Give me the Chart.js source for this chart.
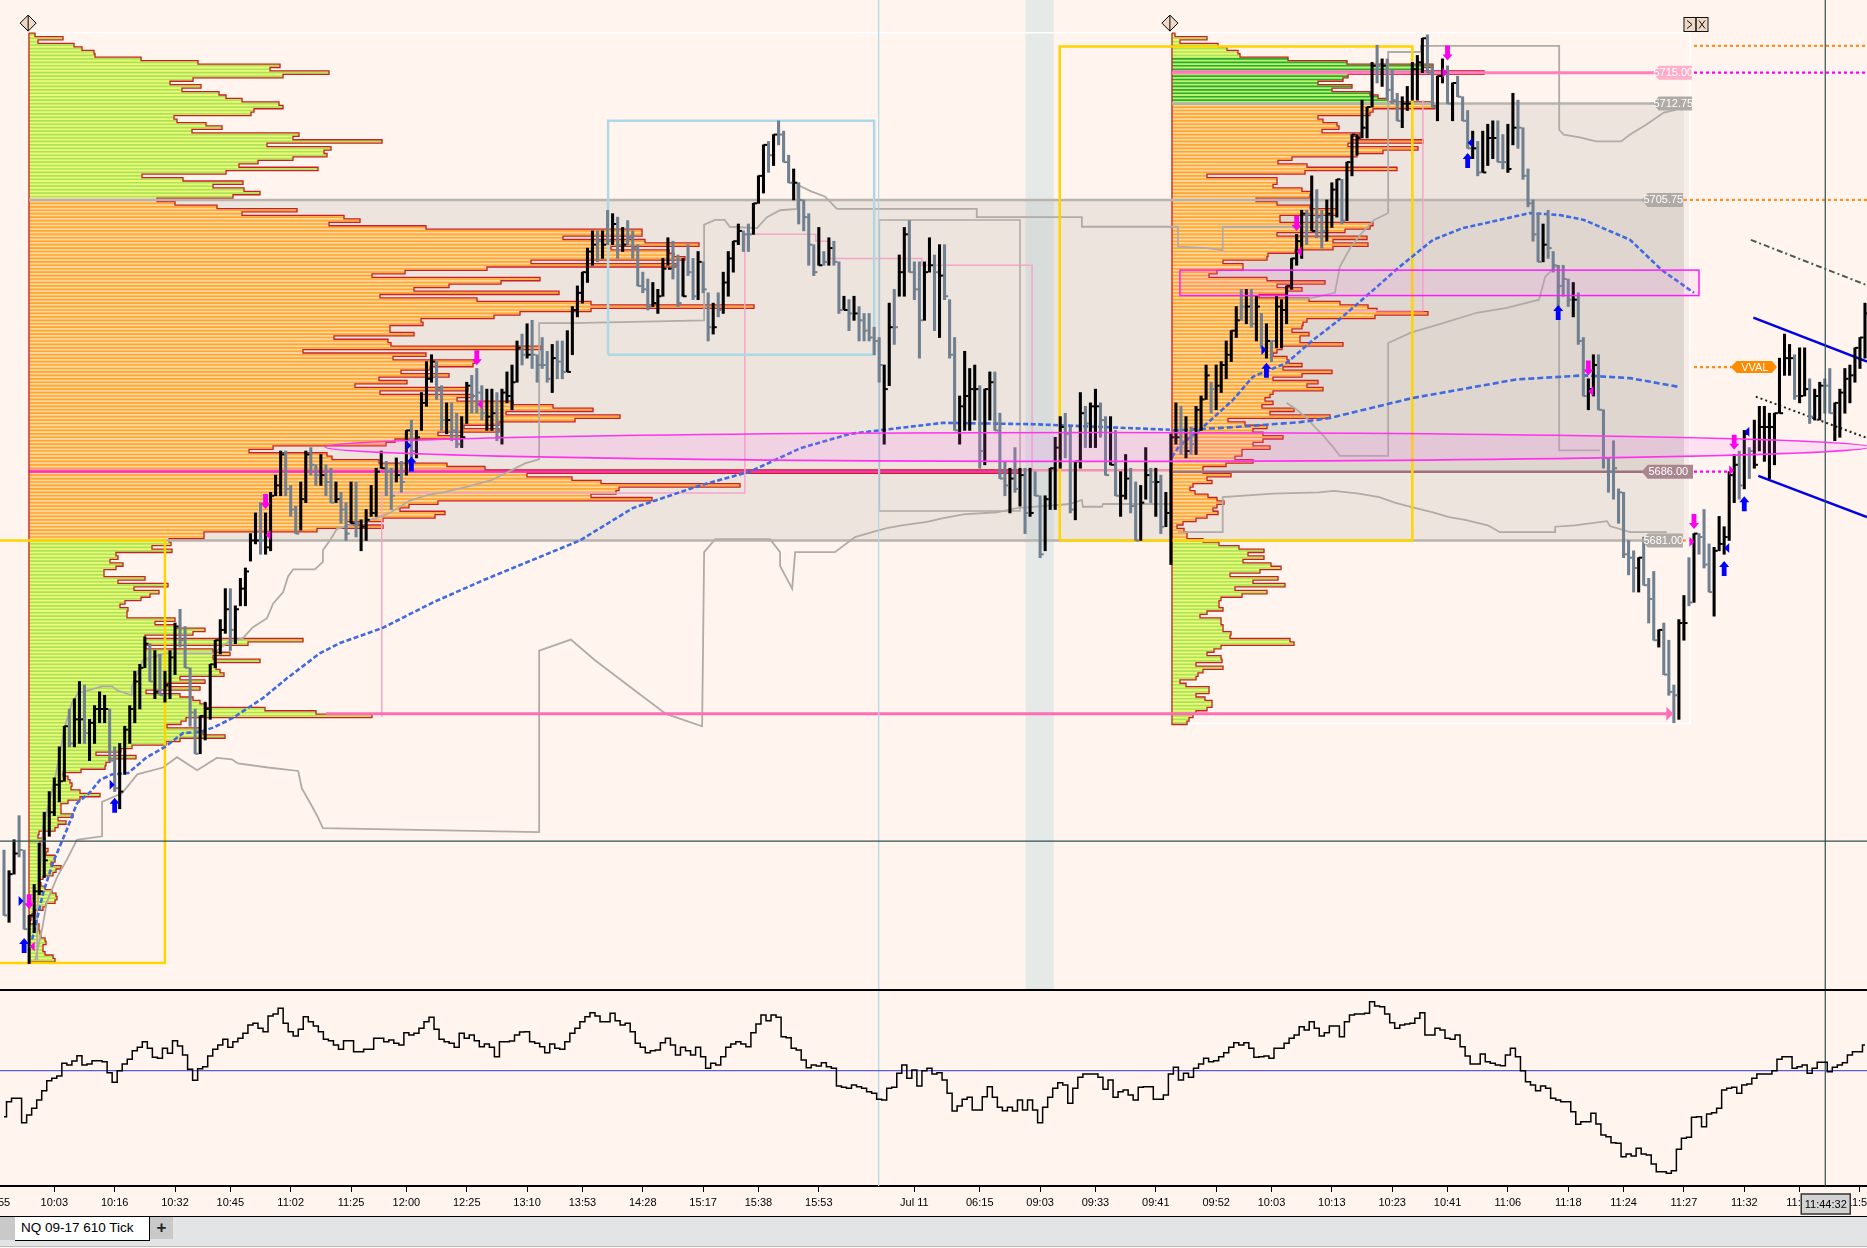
<!DOCTYPE html>
<html>
<head>
<meta charset="utf-8">
<title>NQ 09-17 610 Tick</title>
<script src="https://cdn.jsdelivr.net/npm/chart.js@4"></script>
<style>
  html, body { margin: 0; padding: 0; background: #fff5ee; overflow: hidden; font-family: "Liberation Sans", sans-serif; }
  canvas { position: absolute; left: 0; }
  #main { top: 0; }
  #osc { top: 990px; }
  #sep { position: absolute; left: 0; top: 989px; width: 1867px; height: 2px; background: #000; }
  #tabs { position: absolute; left: 0; top: 1216px; width: 1867px; height: 31px; background: #e3e4e6; border-top: 1.5px solid #000; border-bottom: 1px solid #bbb; box-sizing: border-box; }
  #tabs .gap { position: absolute; left: 0; top: 0; width: 15px; height: 23px; background: #c9c9c9; }
  #tabs .tab { position: absolute; left: 15px; top: 0; width: 135px; height: 24px; background: #fff; border-right: 1.5px solid #000; border-bottom: 1.5px solid #000; box-sizing: border-box; font-size: 13.5px; line-height: 21px; padding-left: 6px; color: #000; }
  #tabs .add { position: absolute; left: 150px; top: 0; width: 23px; height: 22px; background: #c9c9c9; text-align: center; font-size: 17px; font-weight: bold; line-height: 21px; color: #222; }
</style>
</head>
<body>
<canvas id="main" width="1867" height="990"></canvas>
<canvas id="osc" width="1867" height="226"></canvas>
<div id="sep"></div>
<div id="tabs"><div class="gap"></div><div class="tab">NQ 09-17 610 Tick</div><div class="add">+</div></div>
<script>
// prices are points above 5600, x is the bar number
const highs = [58.5,57,59.25,61,58.5,53.75,56,59,61.25,62.75,
63.75,66,67.5,68.75,69.5,70.75,70.5,68,69,70,
69.75,68.75,66,66.25,67.5,69,71.5,72,74,73.5,
73,72.75,71.5,73,75,76,74.75,71.75,68.75,68.25,
69.25,72,73.75,75.25,77.5,77.5,76.25,78.25,79,81.5,
83,83.75,83,84.5,85.75,87.5,87.5,85,83.5,85.25,
87.5,87.75,86.5,87.25,86.5,86.25,85.25,84.5,83.75,85.25,
85.25,82.5,83.25,85,86.25,87.5,86.75,86.25,87,86.75,
89,89.75,89,91.75,94,94.5,94,92.25,91,91,
90.25,90,92.5,93,93.5,92.25,92,92,91.75,92,
93.25,93.75,95.5,96,96.75,97,94.5,95.75,94.75,95.25,
95.5,95.5,96.25,98,99.5,100.5,102.25,103.5,103.5,103.5,
105,104.75,104.5,103.75,104.25,103.5,102.5,100.5,100,99.75,
99.25,101.5,103,102.75,101.75,101.5,102.5,101.5,102,101.25,
99,98.25,99,100.5,102,102.75,104,103.5,104,105.5,
107.5,109.75,110,110.5,111.5,110.75,109,108,107,105.75,
104.75,102.5,103.75,102,103,102.75,101.25,98.75,98.5,98.75,
98,97.5,97.5,96.5,95.75,93.75,98.25,99.25,101.75,103.75,
104.25,101.25,101.25,101.25,103,101.75,102.5,102.5,98.5,95.75,
91.5,94.75,93.5,93.75,92.25,92,93.25,93.25,90.25,86.75,
86.25,87.75,86.25,86.25,86.25,86,84.25,84.25,86.25,88.5,
90,90.25,89.25,86.75,91.75,90.75,91,92,91,90,
90,89,86,87.25,86.25,85.25,85,87.75,86.25,86.25,
85.75,84.5,88.75,91,90.75,90,89.25,90.75,91.5,93.75,
92.5,93.75,94,95.5,96.25,98,99.25,99.25,99.25,98.75,
97.5,96.75,95.5,98.75,98.5,99.5,101.5,103.25,105,105,
107.5,106.5,105,105.75,107,107.25,107.25,108.5,110.5,110.5,
113,112.5,115.75,117,116,116,115.25,113.5,113.25,114,
115.75,116.25,117.5,117.75,115.5,114.75,116,115.5,114.25,114.75,
113.25,112.25,110.75,110,110.75,111.25,111.5,111.5,110.5,111.25,
113.5,113,111,108,105.75,104.75,104,105,102,101,
101,100,99.75,99,95.75,92.75,94.5,94.5,90.5,87,
88.25,84.75,84.5,81,80.25,79.75,81.25,78.25,78.75,74.5,
75,73.75,70.5,75.25,77,79.75,81.5,81.5,83.25,80.75,
80.5,82.75,82,86,87.25,87.5,89,87.75,89.75,90.75,
90.75,90.25,90.25,94.25,96,95.25,94.5,95,95,92.75,
92,92.5,92.75,93.5,91,92,93.5,93.75,95,95.75,98.25];

const lows = [53.75,53.25,56.75,58,52.75,50.25,52.5,55.25,56.5,59.5,
61,62,63.5,66,66,66.25,66.25,65,66.25,67.75,
67.75,65,62.75,61.5,64,66.25,67.75,68.75,71.75,70.75,
69.5,69.75,69.25,69.5,71.25,73.25,71.75,67.5,65.5,65.5,
66.5,68,71.75,72.75,74.25,73,73.5,76.25,76.25,79.5,
80.75,80,80,80.25,84.25,84.25,84.25,82.75,81.5,81.75,
83.75,85.75,85,85,84.25,83.75,83.75,82.25,81,82.25,
81.25,80.25,81,82.75,82.75,86.25,84.25,83.25,85.25,84.5,
85.75,87,87,89,90.75,92.5,91.25,89,88.75,88.25,
87.75,87.75,89.5,90.25,90.25,89.75,89,89,88.25,88,
91,90.5,92.5,93.75,94.25,93.5,92.5,93.5,92.5,91.75,
92.75,92.75,93.25,94.5,97.25,98.25,99.75,101,101.25,101.5,
102.5,102.5,101.5,102,102.5,101.5,99.5,99,97.75,98,
97.5,98.75,101,100,98,98.75,100.25,98.5,98.5,99,
95.5,96,97.25,97.5,98.75,100.5,102.5,102,102,103.25,
105.5,106.25,107.75,108.25,109.75,108.5,107,105.75,104,103.5,
101,100.25,101,101,101,101,97.5,97.75,96.25,97,
95.5,95.5,95.5,94.5,92.5,88,92.25,95.25,98.75,98.75,
100.5,98.5,94.25,97,100.5,96.25,95.75,98.5,94.25,89,
88,89,89,89.75,86.25,86.5,89.75,89,85.5,84.25,
83,84.5,83.5,81.5,82.75,84.25,79.75,80.25,83.25,83.25,
86.25,87,83,82.5,86.25,87.75,87.75,87.75,88.5,85.75,
86.5,84.25,82.75,84,83,81,81,84,83.75,82.75,
81.5,82,79.25,88,87.25,87,87.25,87.25,89,91.25,
90.25,90.5,91.75,92.75,94,95.75,97,96.75,96.5,95.5,
95,94.25,94,95,95,96.75,99.25,101,101.5,102.5,
103.5,103,102.25,102.75,103.75,104.5,104,104.25,107.5,109,
110.25,110.25,112.5,114.25,114,113,112.75,111.5,111,112.25,
113,113,115,115,112.5,111.5,114.25,112.75,111.5,113.25,
111.5,109.5,108.75,107.5,107.75,108.25,108.75,108.5,108,107.75,
109.75,109.5,107.25,105.25,102.75,101.25,101.25,101.5,100.5,98,
98.75,98,97.25,95.25,91.5,90.5,91.5,90.5,86.25,84.5,
84,82.25,79.75,78.5,77.25,77.25,77.75,75,73.75,73.25,
71.25,69.75,67.75,68,73.75,76.25,76.5,80,79,77.25,
75.5,80.25,80,81,83.75,84,84.75,85.5,86.25,87.5,
86.75,85.5,86.5,90.25,93,93,91.25,91,91.5,89.5,
89.75,89.75,90.25,90.25,88.25,88.5,90.25,91,92.5,93.5,94.25];

const closes = [53.75,56.75,58.25,58.5,52.75,53.75,55.5,55.5,57.75,61.25,
63.25,63.5,67.5,66.25,68,68,67,67.75,68.75,68.75,
68.75,65,63,62.75,67.25,68.75,70.75,71.75,73.5,70.75,
70,69.75,70.5,72.5,74.75,73.75,71.75,68.5,65.5,68.25,
68.75,72,73.75,74.5,76,74.5,76,77.5,78.75,81,
81,81,80.5,84.25,85,87.25,84.75,83.25,81.5,84,
87.25,86.5,85.75,85.75,85.25,83.75,84,83.25,81.5,82.25,
82.25,82,82.5,83,86,86.25,86,84.25,85.75,85.25,
89,87.5,88.5,91,92.75,94,92,89.75,89.75,89,
88,88.5,92.25,91.5,91.75,90.25,90,90.25,88.5,91.75,
91.5,92.5,95,94.5,94.5,94.5,93.75,93.75,92.75,94.25,
94,93.25,93.25,97.75,99,100.5,102,102.5,102.75,102.5,
102.75,104,102.5,102.5,103,102.25,99.5,99.25,98,98.25,
98.75,100.75,100.75,101,98.25,98.75,100.5,98.75,101.25,99.25,
96.5,96.5,97.75,99.75,101.5,102.75,103.5,103.25,103.25,105.5,
107.5,109.75,109,110.5,110.5,108.5,107,107,105.75,104.5,
102.5,100.5,101,101.25,102.25,101.25,97.75,97.75,97.5,97.5,
97,96.25,95.75,95.5,93.75,92,96.5,96.5,100.5,103.25,
100.5,99.25,97,100.5,101,100.5,100.25,98.75,94.5,89,
90.75,91.5,92,92,87.5,92,92.5,89,85.5,85,
85.5,84.75,85.75,83,83,84.25,80,84,86.25,87.75,
89.25,88.75,83.25,86.75,90.25,89.5,90.75,90.75,89.75,85.75,
86.5,84.25,84.25,85.5,83.5,81,83.75,85.75,85.25,85.25,
82,83,88.5,88.5,88,87.5,88,90.5,91.25,93,
92,92.25,93.75,94.5,96.25,97,98,98,96.75,98,
95,95.5,95.5,98,97.75,99.5,101.5,102.75,104.75,104.75,
103.5,104.5,103.5,104.75,106.5,107.25,104.25,108.5,110.5,110.25,
111,112.5,115.5,115.5,115.5,113.75,113,111.5,112.75,112.75,
115.25,115.75,117.5,115,112.5,114.75,115,112.75,114.25,113.25,
111.5,109.5,109.5,107.75,107.75,110.25,110.25,108.5,108.5,108,
111,111,107.5,105.5,103.25,101.25,102.5,102.25,101,99.5,
100,98.5,98.5,95.5,91.5,92,93.75,90.5,87,86,
86.25,84.5,80,79.75,79,79.75,77.75,76.75,73.75,74.5,
71.25,70,69.75,75,75,76.5,81.5,81.25,79.25,77.25,
80.25,80.75,81.25,85.75,86.5,85,88.75,87.5,86.5,89.25,
89.25,89.25,90.25,90.25,94.25,94.25,91.5,91.5,92,90,
91.5,92.25,92.25,90.25,91,91.75,92.75,93,95,95.75,97.5];

const greyBars = [0,3,4,13,16,21,22,29,31,35,36,37,38,45,51,56,57,58,61,62,64,65,67,68,70,76,77,79,81,86,87,89,90,93,94,95,98,103,105,106,107,108,110,111,118,120,122,124,125,126,127,128,133,134,136,137,139,140,142,147,148,152,154,155,156,158,159,160,161,163,165,166,168,170,171,172,173,174,177,180,181,182,185,187,188,189,194,197,198,199,201,203,205,206,211,212,215,218,219,221,224,225,228,230,234,236,240,246,248,250,252,259,261,262,266,273,275,276,277,283,284,287,289,290,291,293,297,298,301,302,303,304,305,307,308,309,310,311,313,314,317,318,319,320,321,322,323,324,326,327,328,330,331,332,335,337,338,339,345,347,356,359,362,363];

const oscillator = [-138,-93,-83,-83,-156,-133,-113,-88,-60,-30,-23,-16,22,17,29,45,17,20,30,30,27,-6,-35,0,20,34,60,70,87,67,40,37,67,52,90,74,47,4,-29,6,12,44,64,77,94,70,87,97,112,137,142,127,117,164,170,187,142,117,104,124,162,147,134,117,94,90,77,64,90,90,57,57,64,64,97,97,87,92,82,77,114,107,112,127,147,160,124,94,87,82,70,112,97,107,90,72,80,70,42,87,87,89,107,116,117,87,82,72,54,80,67,64,87,112,127,147,162,174,164,147,147,172,150,137,142,117,82,70,54,60,62,84,97,77,47,70,60,47,70,42,7,22,17,42,70,80,87,80,72,114,140,167,150,167,160,102,99,67,62,32,9,17,14,24,12,7,-46,-50,-53,-43,-48,-53,-63,-68,-86,-88,-53,-50,-8,17,-23,2,-46,0,7,
-10,-6,-28,-68,-121,-106,-86,-80,-118,-118,-78,-48,-80,-110,-120,-110,-121,-88,-118,-88,-118,-156,-110,-80,-53,-36,-43,-98,-53,-20,-10,-10,-10,-20,-56,-28,-80,-63,-58,-73,-88,-50,-48,-48,-86,-86,-73,-10,10,-28,-8,-20,7,20,37,27,30,42,54,70,84,77,84,67,40,42,44,37,67,67,82,97,107,132,122,147,127,104,114,134,134,102,147,167,170,170,172,207,194,192,170,144,127,137,140,142,157,174,107,107,127,122,97,94,107,72,44,20,20,50,27,22,17,15,47,67,42,0,-33,-43,-60,-46,-53,-83,-88,-93,-93,-123,-161,-153,-153,-128,-160,-193,-198,-216,-218,-258,-250,-256,-233,-250,-253,-280,-303,-303,-308,-300,-236,-203,-200,-140,-138,-168,-130,-126,-113,-58,-53,-50,-68,-43,-40,-23,-10,-10,-10,0,34,42,42,7,12,17,-8,7,25,25,-3,10,17,24,47,57,57,77];

const tickBars = [-1.5,10,22,34,45,57,69,80,92,104,115,127,139,150,162,181,194,206,217,229,241,252,264,276,287,299,311,322,334,346,357,369];
const tickLabels = ["09:55","10:03","10:16","10:32","10:45","11:02","11:25","12:00","12:25","13:10","13:53","14:28","15:17","15:38","15:53","Jul 11","06:15","09:03","09:33","09:41","09:52","10:03","10:13","10:23","10:41","11:06","11:18","11:24","11:27","11:32","11:38","11:50"];

// volume at price, one value per 0.25 row from the top of the ladder
const topRow = 117.75;
const leftProfile = [6,34,9,45,53,65,66,112,169,251,241,300,254,164,141,172,153,190,197,213,250,254,225,222,145,148,177,193,163,270,264,353,238,302,295,298,264,229,210,289,197,113,154,214,184,215,231,204,
128,146,188,268,213,315,331,300,397,613,613,534,616,670,582,640,645,656,502,647,458,376,343,511,472,420,385,530,351,448,562,725,562,491,465,392,394,361,361,385,305,359,362,512,274,397,364,446,444,401,372,420,350,378,326,439,351,444,428,484,524,564,477,591,546,470,435,470,409,432,366,357,244,220,298,303,350,418,456,991,498,543,572,711,590,587,562,623,409,380,371,416,406,354,317,354,288,175,175,140,
142,123,143,87,89,81,94,87,75,75,116,89,139,105,130,121,112,96,91,99,98,98,146,126,146,176,164,116,274,219,117,184,201,184,231,187,187,191,195,151,176,137,171,117,151,164,171,177,236,287,343,157,152,138,171,174,196,151,137,103,92,67,107,81,77,76,52,34,39,41,43,42,51,71,51,39,32,32,32,44,29,37,29,26,10,9,16,11,16,19,17,26,26,22,32,27,24,14,10,12,16,23,27,28,26,17,14,6,3,2,1,10,10,11,12,16,17,14,14,16,24,26];
const rightProfile = [3,35,8,46,55,66,68,116,175,261,251,312,176,171,146,180,160,198,206,216,261,263,201,198,146,151,165,167,150,188,180,251,176,246,211,185,120,106,135,225,133,35,105,105,101,130,139,138,84,105,138,165,165,108,108,201,198,173,105,195,161,196,161,123,96,95,51,71,71,45,37,95,153,105,130,115,87,137,168,196,205,256,203,135,131,130,120,137,128,128,171,110,105,101,115,117,130,111,160,130,101,146,135,151,101,98,93,101,90,122,98,158,56,73,95,81,91,111,91,81,98,70,70,63,81,54,31,31,59,35,40,21,18,23,36,45,52,45,41,46,
35,24,11,5,12,15,15,31,47,67,92,76,92,71,99,109,88,58,106,81,113,63,95,70,49,47,47,51,35,28,49,49,51,51,59,58,118,122,49,42,35,49,50,24,51,31,26,24,8,14,37,37,24,33,40,40,35,24,21,17,15];
const leftPocRow = 127, rightPocRow = 11;

// session levels, drawn from bar number and price
const leftArea = [5, 334, 105.75, 81];
const rightArea = [232.2, 334, 112.75, 86];
const lowerBand = [203.1, 208.7];
const ellipseCentre = [217.3, 87.8], ellipseReach = [153.5, 1.05];
const zoneBox = [233.8, 337, 100.65, 98.8];
const crossBar = 362.1, crossPrice = 59.15, sessionBar = 173.9;

const trailA = [[6.2,50.5],[7.6,52.8],[8.5,54.7],[10.5,56.5],[12.5,57.8],[14.5,59.25],[19.5,59.5],[19.5,62],[23.5,62.65],[26.5,64],[31.6,64.5],[34.4,65.25],[38.4,64.3],[42.3,65.2],[45.3,65.1],[46.5,64.8],[52.5,64.5],[58.5,64.25],[59.2,63],[61.2,61.7],[62.4,60.9],[63.4,60.1],[106.4,59.8],[106.4,73],[112.7,73.8],[117.5,72.3],[124.7,70.3],[131.6,68.4],[138.8,67.5],[139.2,80.15],[141.4,81.1],[152.3,81.1],[154.3,80.15],[154.3,79.15],[156.7,77.5],[157.3,80.15],[165.2,80.15],[169.2,81.25],[172.6,81.6],[175.5,81.9],[178.5,82.1],[183.5,82.35],[186.5,82.6],[190.7,82.9],[197.4,83.05],[201.4,83.35],[211.9,83.65],[214.3,83.95],[214.5,83.45],[218.3,83.45],[218.5,83.65],[231.8,83.65]];
const trailB = [[233.4,81.6],[242.3,81.6],[242.3,84.15],[252.3,84.4],[261.4,84.5],[264.4,84.6],[269.4,84.4],[273.4,84.15],[276.5,83.75],[279.7,83.45],[284.1,83.05],[287.3,82.7],[290.5,82.5],[295,82.1],[297.4,81.6],[308.4,81.6],[308.4,82],[312.3,82.1],[318.7,82.4],[319.3,82.05],[323.3,81.6],[330.6,81.6]];
const trailC = [[6.6,50.5],[6.6,54],[7.8,60.2],[10.2,63.8],[12.1,67.45],[13.5,69.2],[14.7,69.9],[19.5,70.4],[21.5,70.4],[22.5,70.1],[25.4,69.75],[25.4,70.35],[27.6,72.3],[32,72.8],[41.6,72.8],[44.5,73.6],[47.5,73.9],[49.5,74.7],[52.3,75.35],[53.5,76.4],[55.5,77.25],[56.5,78.4],[57.5,78.9],[61.8,78.9],[63.4,79.45],[63.4,80.3],[64.8,81],[66.2,81.85],[74.2,82.65],[76.7,83],[80.7,83.9],[84.1,84.3],[87.3,84.5],[92,84.9],[97,85.4],[103.6,86.6],[106.4,86.9],[106.4,96.8],[112.9,96.8],[139.2,97],[139.2,103.95],[141.4,104.3],[143.3,104.3],[144.3,103.8],[149.7,103.7],[151.7,104.5],[154.3,105],[157.7,105.1],[157.7,106.85],[160.6,106.35],[163.2,106],[165.6,105.1],[193.4,105.1],[193.4,104.5],[214.3,104.5],[214.3,103.8],[232.2,103.8],[233.4,103.8],[233.4,102.35],[239.2,102.25],[242.3,102.1],[242.3,103.8],[261.6,103.8]];
const trailD = [[255,98.6],[259.6,98.6],[264.6,99],[265.6,100.9],[267.8,102.35],[270,103.35],[272.4,104.3],[275.2,104.8],[275.2,116.5],[281.7,116.5],[281.7,116.95],[309.2,116.95],[309.2,110.85],[310.1,110.5],[313.3,110.3],[316.5,110],[321.5,110],[323.3,110.5],[326.4,111.2],[330,112.1],[332.4,112.3]];
const trailE = [[255,91],[256.7,90.6],[259,89.9],[260.6,89.25],[262.2,88.65],[264.2,87.8],[265.6,87.15],[275.2,87.15],[275.2,95.35],[279.7,96.1],[286.1,96.8],[292.8,97.55],[298.8,97.9],[305.2,98.5],[306.4,100.15],[308.4,100.9],[309.2,100.9],[309.2,87.55],[317.3,87.55]];
const greyBox = [[174,83.15],[174,104.3],[202,104.3],[202,83.15],[174,83.15]];

const vwapOne = [[5.6,52],[7.8,55.4],[9.7,57.55],[12.5,60],[14.5,61.9],[17.1,62.7],[19.1,63.6],[21.5,64],[24.7,64.1],[28.4,65.25],[32,66],[35.6,67],[39,67.1],[41.6,67.4],[45.5,68.1],[51.5,69.55],[56.3,71],[62.8,72.8],[66.8,73.55],[75.3,74.65],[85.3,76.5],[95.2,78.1],[114.5,81],[125,83.35],[138.4,85],[148.3,86],[158.3,87.7],[168.2,88.75],[186.7,89.55],[204.6,89.45],[231.8,89.05]];
const vwapTwo = [[232.2,87.05],[233.8,87.95],[237.8,89.05],[244.3,91.2],[248.3,92.9],[255,93.9],[260.2,95.55],[265,96.9],[271.6,99],[277.5,100.9],[284.1,102.85],[290,103.7],[297.4,104.3],[303.4,104.8],[309.3,104.65],[314.1,104.3],[323.3,102.85],[329.6,100.65],[336,99]];
const vwapThree = [[232.4,89],[243.1,89.2],[257.7,89.6],[263.6,89.9],[280,91.35],[300.6,92.7],[314.1,93],[323.3,92.8],[333.2,92.15]];

const pinkPathA = [[75.1,68.2],[75.1,84.45],[147.3,84.45],[147.3,103.25],[161.4,103.25],[161.4,102.75],[164.2,102.75],[164.2,101.5],[182.5,101.5],[182.5,101],[204.4,101],[204.4,86.1]];
const pinkPathB = [[255,97.7],[282.1,97.7],[282.1,113]];
const yellowLeft = [[-1,81],[32,81],[32,50.3],[-1,50.3]];
const yellowRight = [[209.9,81],[209.9,116.9],[280,116.9],[280,81],[209.9,81]];
const blueBox = [[120.1,94.5],[120.1,111.5],[173,111.5],[173,94.5],[120.1,94.5]];
const channelTop = [[347.8,97.2],[370.4,94]], channelLow = [[348.8,85.7],[370.4,82.7]];
const dottedMid = [[348.3,91.45],[370.4,88.45]], dashDotTop = [[347.3,102.85],[370.4,99.55]];

const upArrows = [[4,51.6],[22,61.8],[81,86.6],[251,93.4],[291,108.65],[309,97.6],[342,79],[346,83.7]];
const downArrows = [[5,54.7],[52,83.8],[94,94.25],[257,104],[287,116.4],[315,93.5],[336,82.35],[344,88.1]];
const blueRight = [[3.4,54.8],[21.5,63.25],[80.5,87.9],[250.5,94.85]];
const blueLeft = [[291.5,109.9],[342.5,80.45],[346.5,88.9]];
const pinkLeft = [[5.6,51.5],[52.5,81.4],[94.6,90.9],[257.5,102],[315.5,91.85]];
const pinkRight = [[286.5,115],[335.6,80.9],[343.5,86.1]];

const priceTags = [
  ["5715.00", 327.8, 335.6, 115, "rgba(255,170,200,0.9)"],
  ["5712.75", 327.8, 335.6, 112.75, "#b0aaa6"],
  ["5705.75", 325.6, 333.8, 105.75, "#b0aaa6"],
  ["5686.00", 325.6, 335.8, 86, "#a98590"],
  ["5681.00", 325.6, 333.8, 81, "#b0aaa6"],
  ["VVAL", 343.3, 352.5, 93.6, "#ff8c00"]
];

const BLACK = "#000000", SLATE = "#708090";
const rowPrice = r => topRow - 0.25 * r;

function colourRow(list, r, poc) {
  if (r === poc) return ["#ff55c8", "#ff2fb8"];
  if (list === leftProfile) {
    if (r < 48 || r >= 147) return ["#e8fb76", "#aee158"];
    return ["#ffd79e", "#ffa62e"];
  }
  if (r < 7 || r >= 147) return ["#e8fb76", "#aee158"];
  if (r < 21) return ["#b6f56c", "#2fa82f"];
  return ["#ffd79e", "#ffa62e"];
}

function profileSets(list, axis, poc) {
  const rows = list.map((w, r) => ({ x: w, y: rowPrice(r) }));
  const outline = [{ x: 0, y: rowPrice(0) + 0.125 }];
  list.forEach((w, r) => {
    outline.push({ x: w, y: rowPrice(r) + 0.125 });
    outline.push({ x: w, y: rowPrice(r) - 0.125 });
  });
  outline.push({ x: 0, y: rowPrice(list.length - 1) - 0.125 });
  outline.push({ x: 0, y: rowPrice(0) + 0.125 });
  return [
    { type: "bar", indexAxis: "y", xAxisID: axis, yAxisID: "y", data: rows, grouped: false, barThickness: 3.5, borderWidth: 0,
      backgroundColor: list.map((w, r) => colourRow(list, r, poc)[0]), order: 60 },
    { type: "bar", indexAxis: "y", xAxisID: axis, yAxisID: "y", data: rows, grouped: false, barThickness: 1, borderWidth: 0,
      backgroundColor: list.map((w, r) => colourRow(list, r, poc)[1]), order: 59 },
    { type: "line", xAxisID: axis, yAxisID: "y", data: outline, borderColor: "#c8202a", borderWidth: 1.3, pointRadius: 0, order: 58 }
  ];
}

function path(points, color, width, extra) {
  return Object.assign({
    type: "line", xAxisID: "x", yAxisID: "y",
    data: points.map(p => ({ x: p[0], y: p[1] })),
    borderColor: color, borderWidth: width, pointRadius: 0, order: 40
  }, extra || {});
}

const priceBars = highs.map((h, i) => ({ x: i, y: [lows[i], h] }));
const closeTicks = closes.map((c, i) => ({ x: i, y: c }));
const barShade = highs.map((h, i) => greyBars.includes(i) ? SLATE : BLACK);

const mainSets = [
  ...profileSets(leftProfile, "volL", leftPocRow),
  ...profileSets(rightProfile, "volR", rightPocRow),

  path([[5,105.75],[334,105.75]], "#b9b3ae", 2.5, { order: 50 }),
  path([[5,81],[334,81]], "#b9b3ae", 2.5, { order: 50 }),
  path([[232.2,112.75],[334,112.75]], "#b9b3ae", 2.5, { order: 50 }),
  path([[232.2,86],[326,86]], "#a0707e", 2.5, { order: 50 }),

  path(trailA, "#b0aba6", 1.8),
  path(trailB, "#b0aba6", 1.8),
  path(trailC, "#b0aba6", 1.8),
  path(trailD, "#b0aba6", 1.8),
  path(trailE, "#b0aba6", 1.8),
  path(greyBox, "#bdb8b4", 2),

  path(pinkPathA, "#f4a6c8", 1.5),
  path(pinkPathB, "#f4a6c8", 1.5),
  path([[64,68.4],[331.2,68.4]], "#ff6eb4", 3, { order: 38 }),
  path([[232.2,115],[335,115]], "#ff7fbf", 3, { order: 38 }),
  path([[202,86.1],[232.2,86.1]], "#f58fb4", 2.5, { order: 38 }),

  path(yellowLeft, "#ffd400", 2.5, { order: 30 }),
  path(yellowRight, "#ffd400", 2.5, { order: 30 }),
  path(blueBox, "#add8e6", 2.5, { order: 30 }),

  path([[sessionBar,48.3],[sessionBar,120.3]], "#b5d3e8", 1.2, { order: 32 }),
  path([[-1,crossPrice],[370.5,crossPrice]], "#2f4f4f", 1.2, { order: 5 }),
  path([[crossBar,48.3],[crossBar,120.3]], "#2f4f4f", 1.2, { order: 5 }),

  path(vwapOne, "#4169e1", 2.6, { borderDash: [5, 2.5], order: 20 }),
  path(vwapTwo, "#4169e1", 2.6, { borderDash: [5, 2.5], order: 20 }),
  path(vwapThree, "#4169e1", 2.6, { borderDash: [6, 3], order: 20 }),

  path([[336,116.95],[370.4,116.95]], "#ff8c1a", 2.2, { borderDash: [3, 3], order: 20 }),
  path([[334,105.75],[370.4,105.75]], "#ff8c1a", 2.2, { borderDash: [3, 3], order: 20 }),
  path([[336,93.6],[343.5,93.6]], "#ff8c1a", 2.2, { borderDash: [3, 3], order: 20 }),
  path([[333.8,81],[336,81]], "#ff8c1a", 2.2, { borderDash: [3, 3], order: 20 }),
  path([[336,115],[370.4,115]], "#ff00ff", 2.2, { borderDash: [3, 3], order: 20 }),
  path([[336,86],[343.5,86]], "#ff00ff", 2.2, { borderDash: [3, 3], order: 20 }),

  path(channelTop, "#0000e6", 2.5, { order: 18 }),
  path(channelLow, "#0000e6", 2.5, { order: 18 }),
  path(dottedMid, "#222222", 2, { borderDash: [2, 3], order: 18 }),
  path(dashDotTop, "#4a5a50", 2, { borderDash: [6, 3, 2, 3], order: 18 }),

  { type: "bar", xAxisID: "x", yAxisID: "y", data: priceBars, grouped: false, barThickness: 2.4, borderWidth: 0,
    backgroundColor: barShade, order: 10 },
  { type: "line", xAxisID: "x", yAxisID: "y", data: closeTicks, showLine: false, pointStyle: "dash", pointRadius: 3.6,
    pointBorderWidth: 2, pointBorderColor: barShade, pointBackgroundColor: barShade, order: 9 }
];

function drawArrow(ctx, x, y, dir, color) {
  ctx.fillStyle = color;
  ctx.beginPath();
  ctx.moveTo(x - 2.4, y - 8 * dir);
  ctx.lineTo(x + 2.4, y - 8 * dir);
  ctx.lineTo(x + 2.4, y + 1 * dir);
  ctx.lineTo(x + 5, y + 1 * dir);
  ctx.lineTo(x, y + 7 * dir);
  ctx.lineTo(x - 5, y + 1 * dir);
  ctx.lineTo(x - 2.4, y + 1 * dir);
  ctx.closePath();
  ctx.fill();
}

function drawPointer(ctx, x, y, dir, size, color) {
  ctx.fillStyle = color;
  ctx.beginPath();
  ctx.moveTo(x - size * dir / 2, y - size);
  ctx.lineTo(x + size * dir / 2, y);
  ctx.lineTo(x - size * dir / 2, y + size);
  ctx.closePath();
  ctx.fill();
}

function drawDiamond(ctx, x, y) {
  ctx.beginPath();
  ctx.moveTo(x, y - 8); ctx.lineTo(x + 8, y); ctx.lineTo(x, y + 8); ctx.lineTo(x - 8, y); ctx.closePath();
  ctx.fillStyle = "#f0d9c4"; ctx.fill();
  ctx.strokeStyle = "#000"; ctx.lineWidth = 1; ctx.stroke();
  ctx.beginPath(); ctx.moveTo(x, y - 8); ctx.lineTo(x, y + 8); ctx.stroke();
}

const sessionPaint = {
  id: "sessionPaint",
  beforeDatasetsDraw(chart) {
    const ctx = chart.ctx, X = v => chart.scales.x.getPixelForValue(v), Y = v => chart.scales.y.getPixelForValue(v);
    ctx.save();
    ctx.fillStyle = "rgba(130,125,120,0.14)";
    [leftArea, rightArea].forEach(b => ctx.fillRect(X(b[0]), Y(b[2]), X(b[1]) - X(b[0]), Y(b[3]) - Y(b[2])));
    ctx.fillStyle = "rgba(130,125,120,0.05)";
    ctx.fillRect(X(334), Y(rightArea[2]), X(335.2) - X(334), Y(leftArea[3]) - Y(rightArea[2]));
    ctx.fillStyle = "rgba(170,205,220,0.3)";
    ctx.fillRect(X(lowerBand[0]), 0, X(lowerBand[1]) - X(lowerBand[0]), chart.height);
    ctx.strokeStyle = "#ffffff"; ctx.lineWidth = 1.5;
    ctx.beginPath();
    ctx.moveTo(X(5), Y(117.9)); ctx.lineTo(X(335.2), Y(117.9)); ctx.lineTo(X(335.2), Y(67.7)); ctx.lineTo(X(232.2), Y(67.7));
    ctx.moveTo(X(32), Y(50.2)); ctx.lineTo(X(5), Y(50.2));
    ctx.stroke();
    ctx.restore();
  },
  afterDatasetsDraw(chart) {
    const ctx = chart.ctx, X = v => chart.scales.x.getPixelForValue(v), Y = v => chart.scales.y.getPixelForValue(v);
    ctx.save();
    // value ellipse and zone box
    ctx.beginPath();
    ctx.ellipse(X(ellipseCentre[0]), Y(ellipseCentre[1]), X(ellipseCentre[0] + ellipseReach[0]) - X(ellipseCentre[0]),
      Y(ellipseCentre[1] - ellipseReach[1]) - Y(ellipseCentre[1]), 0, 0, Math.PI * 2);
    ctx.fillStyle = "rgba(255,105,255,0.15)"; ctx.fill();
    ctx.strokeStyle = "#ff33ee"; ctx.lineWidth = 1.6; ctx.stroke();
    ctx.fillStyle = "rgba(255,100,255,0.10)";
    ctx.fillRect(X(zoneBox[0]), Y(zoneBox[2]), X(zoneBox[1]) - X(zoneBox[0]), Y(zoneBox[3]) - Y(zoneBox[2]));
    ctx.strokeStyle = "#ff1aff"; ctx.lineWidth = 1.5;
    ctx.strokeRect(X(zoneBox[0]), Y(zoneBox[2]), X(zoneBox[1]) - X(zoneBox[0]), Y(zoneBox[3]) - Y(zoneBox[2]));

    upArrows.forEach(p => drawArrow(ctx, X(p[0]), Y(p[1]), -1, "#0000ff"));
    downArrows.forEach(p => drawArrow(ctx, X(p[0]), Y(p[1]), 1, "#ff00ee"));
    blueRight.forEach(p => drawPointer(ctx, X(p[0]), Y(p[1]), 1, 5, "#0000ff"));
    blueLeft.forEach(p => drawPointer(ctx, X(p[0]), Y(p[1]), -1, 5, "#0000ff"));
    pinkLeft.forEach(p => drawPointer(ctx, X(p[0]), Y(p[1]), -1, 5, "#ff00ee"));
    pinkRight.forEach(p => drawPointer(ctx, X(p[0]), Y(p[1]), 1, 5, "#ff00ee"));
    drawPointer(ctx, X(331.2), Y(68.4), 1, 7, "#ff6eb4");

    // price tags
    ctx.font = "11px 'Liberation Sans'";
    ctx.textAlign = "center"; ctx.textBaseline = "middle";
    priceTags.forEach(t => {
      const x0 = X(t[1]), x1 = X(t[2]), y = Y(t[3]), h = t[0] === "VVAL" ? 6 : 7;
      ctx.fillStyle = t[4];
      ctx.beginPath();
      ctx.moveTo(x0, y); ctx.lineTo(x0 + 6, y - h); ctx.lineTo(x1 - (t[0] === "VVAL" ? 5 : 0), y - h);
      if (t[0] === "VVAL") ctx.lineTo(x1, y);
      ctx.lineTo(x1 - (t[0] === "VVAL" ? 5 : 0), y + h); ctx.lineTo(x0 + 6, y + h);
      ctx.closePath(); ctx.fill();
      ctx.fillStyle = "#ffffff";
      ctx.fillText(t[0], (x0 + x1) / 2 + 1, y + 0.5);
    });

    drawDiamond(ctx, X(4.8), Y(118.6));
    drawDiamond(ctx, X(231.8), Y(118.6));

    // collapse box in the top corner
    const bx = X(336.4), by = Y(118.5);
    ctx.fillStyle = "#f0d9c4"; ctx.fillRect(bx - 12, by - 7, 24, 14);
    ctx.strokeStyle = "#111"; ctx.lineWidth = 1; ctx.strokeRect(bx - 12, by - 7, 12, 14); ctx.strokeRect(bx, by - 7, 12, 14);
    ctx.beginPath();
    ctx.moveTo(bx - 9, by - 4); ctx.lineTo(bx - 4, by); ctx.lineTo(bx - 9, by + 4);
    ctx.moveTo(bx + 3, by - 4); ctx.lineTo(bx + 9, by + 4); ctx.moveTo(bx + 9, by - 4); ctx.lineTo(bx + 3, by + 4);
    ctx.stroke();
    ctx.restore();
  }
};

new Chart(document.getElementById("main"), {
  data: { datasets: mainSets },
  plugins: [sessionPaint],
  options: {
    responsive: false, animation: false, events: [],
    layout: { padding: 0, autoPadding: false },
    plugins: { legend: { display: false }, tooltip: { enabled: false } },
    scales: {
      x: { type: "linear", axis: "x", display: false, offset: false, min: -0.795, max: 370.4 },
      volL: { type: "linear", axis: "x", display: false, offset: false, min: -29, max: 1838 },
      volR: { type: "linear", axis: "x", display: false, offset: false, min: -1172, max: 695 },
      y: { type: "linear", axis: "y", display: false, offset: false, min: 48.33, max: 120.28 }
    }
  }
});

const timeStamp = {
  id: "timeStamp",
  afterDraw(chart) {
    const ctx = chart.ctx, x = chart.scales.x.getPixelForValue(crossBar);
    ctx.save();
    ctx.fillStyle = "#d3d3d3"; ctx.fillRect(x - 24, 204, 49, 20);
    ctx.strokeStyle = "#333"; ctx.lineWidth = 1.5; ctx.strokeRect(x - 24, 204, 49, 20);
    ctx.fillStyle = "#000"; ctx.font = "11px 'Liberation Sans'"; ctx.textAlign = "center"; ctx.textBaseline = "middle";
    ctx.fillText("11:44:32", x + 0.5, 214.5);
    ctx.restore();
  }
};

new Chart(document.getElementById("osc"), {
  type: "line",
  plugins: [timeStamp],
  data: {
    datasets: [
      { data: [{ x: sessionBar, y: -346 }, { x: sessionBar, y: 242 }], borderColor: "#b5d3e8", borderWidth: 1.2, pointRadius: 0, order: 5 },
      { data: [{ x: crossBar, y: -346 }, { x: crossBar, y: 242 }], borderColor: "#2f4f4f", borderWidth: 1.2, pointRadius: 0, order: 4 },
      { data: [{ x: -1, y: 0 }, { x: 371, y: 0 }], borderColor: "#5b5bd6", borderWidth: 1.2, pointRadius: 0, order: 3 },
      { data: oscillator.map((v, i) => ({ x: i, y: v })), borderColor: "#000", borderWidth: 1.5, pointRadius: 0, stepped: "middle", order: 1 }
    ]
  },
  options: {
    responsive: false, animation: false, events: [],
    layout: { padding: 0, autoPadding: false },
    plugins: { legend: { display: false }, tooltip: { enabled: false } },
    scales: {
      x: {
        type: "linear", min: -0.795, max: 370.4, offset: false,
        border: { display: true, color: "#000", width: 2 },
        grid: { display: true, drawOnChartArea: false, drawTicks: true, tickLength: 6, color: "#000" },
        afterBuildTicks(scale) { scale.ticks = tickBars.map(v => ({ value: v })); },
        afterFit(scale) { scale.height = 30; scale.paddingLeft = 0; scale.paddingRight = 0; },
        ticks: { autoSkip: false, maxRotation: 0, padding: 4, color: "#000", font: { family: "Liberation Sans", size: 11 },
          callback: (v, i) => tickLabels[i] }
      },
      y: { type: "linear", display: false, min: -346, max: 242 }
    }
  }
});
</script>
</body>
</html>
